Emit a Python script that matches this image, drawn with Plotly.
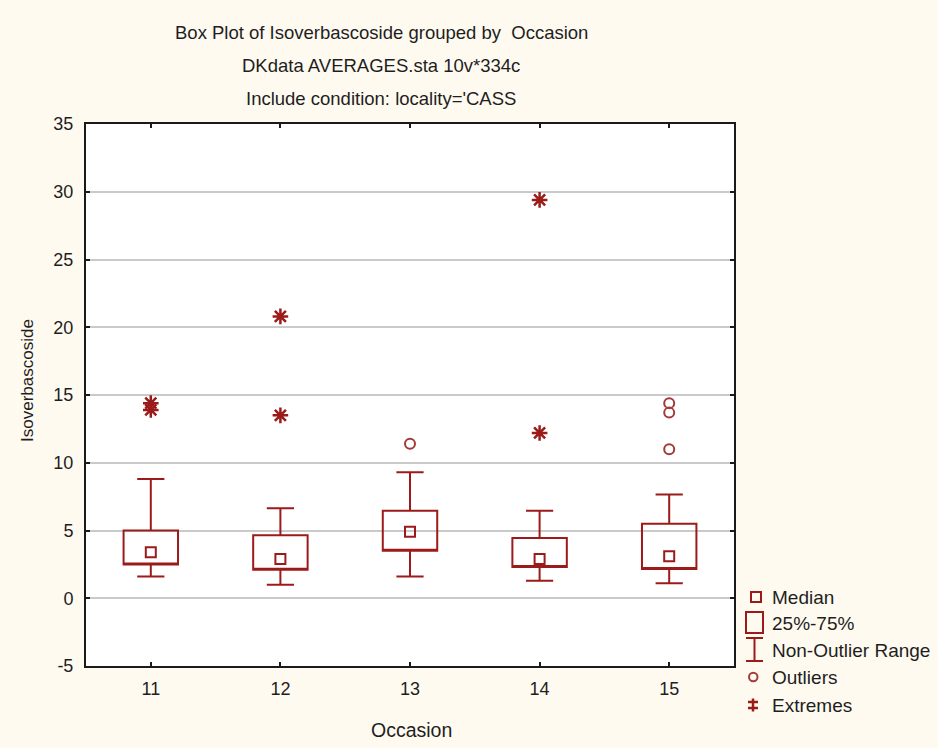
import plotly.graph_objects as go

# ---- data ----
occasion = [11, 12, 13, 14, 15]
q1 = [2.5, 2.1, 3.5, 2.3, 2.15]
median = [3.4, 2.9, 4.9, 2.9, 3.1]
q3 = [5.0, 4.65, 6.45, 4.45, 5.5]
whisker_low = [1.6, 1.0, 1.6, 1.3, 1.1]
whisker_high = [8.8, 6.65, 9.3, 6.45, 7.65]

outlier_x = [13, 15, 15, 15]
outlier_y = [11.4, 14.4, 13.7, 11.0]

extreme_x = [11, 11, 12, 12, 14, 14]
extreme_y = [14.4, 13.9, 20.8, 13.5, 29.4, 12.2]

y_ticks = [-5, 0, 5, 10, 15, 20, 25, 30, 35]

title_lines = [
    "Box Plot of Isoverbascoside grouped by  Occasion",
    "DKdata AVERAGES.sta 10v*334c",
    "Include condition: locality='CASS",
]
legend_labels = ["Median", "25%-75%", "Non-Outlier Range", "Outliers", "Extremes"]

# ---- style ----
RED = "#9B1B1B"
RED2 = "#A23A3A"
TXT = "#1e1e1e"
FONT = "Liberation Sans, Arial, sans-serif"
W, H = 938, 748
L, R, T, B = 86, 204, 124, 82
PW, PH = W - L - R, H - T - B


def px(x):
    return (x - L) / PW


def py(y):
    return (H - B - y) / PH


fig = go.Figure()

# boxes (median line hidden on the lower edge; median shown as square marker)
fig.add_trace(go.Box(
    x=occasion, q1=q1, median=q1, q3=q3,
    lowerfence=whisker_low, upperfence=whisker_high,
    width=0.42, whiskerwidth=0.5,
    fillcolor="rgba(255,255,255,0)",
    line=dict(color=RED, width=2),
    boxpoints=False, showlegend=False, hoverinfo="skip",
))

fig.add_trace(go.Scatter(
    x=occasion, y=median, mode="markers", showlegend=False,
    marker=dict(symbol="square-open", size=10, color=RED, line=dict(width=2, color=RED)),
))

fig.add_trace(go.Scatter(
    x=outlier_x, y=outlier_y, mode="markers", showlegend=False,
    marker=dict(symbol="circle-open", size=10, color=RED2, line=dict(width=2, color=RED2)),
))

fig.add_trace(go.Scatter(
    x=extreme_x, y=extreme_y, mode="markers", showlegend=False,
    marker=dict(symbol="asterisk-open", size=13, color=RED, line=dict(width=2.5, color=RED)),
))

# ---- titles ----
ann = []
for txt, yc in zip(title_lines, [33, 66, 98]):
    ann.append(dict(text=txt, x=px(381), y=py(yc), xref="paper", yref="paper",
                    showarrow=False, xanchor="center", yanchor="middle",
                    font=dict(size=18.5, color=TXT, family=FONT)))
ann.append(dict(text="Isoverbascoside", x=px(27), y=py(381), xref="paper", yref="paper",
                showarrow=False, textangle=-90, xanchor="center", yanchor="middle",
                font=dict(size=17, color=TXT, family=FONT)))
ann.append(dict(text="Occasion", x=px(411), y=py(730), xref="paper", yref="paper",
                showarrow=False, xanchor="center", yanchor="middle",
                font=dict(size=19.5, color=TXT, family=FONT)))

# ---- custom legend ----
leg_y = [597, 623, 650, 677, 705]
for lab, yc in zip(legend_labels, leg_y):
    ann.append(dict(text=lab, x=px(770), y=py(yc), xref="paper", yref="paper",
                    showarrow=False, xanchor="left", yanchor="middle",
                    font=dict(size=19, color=TXT, family=FONT)))

shapes = []
ln = dict(color=RED, width=2)
# median square
shapes.append(dict(type="rect", xref="paper", yref="paper", x0=px(751), x1=px(761),
                   y0=py(602), y1=py(592), line=ln))
# box
shapes.append(dict(type="rect", xref="paper", yref="paper", x0=px(746), x1=px(763),
                   y0=py(633), y1=py(612), line=ln))
# non-outlier range (I beam)
for a, b, c, d in [(746, 638, 763, 638), (746, 661, 763, 661), (754.5, 638, 754.5, 661)]:
    shapes.append(dict(type="line", xref="paper", yref="paper", x0=px(a), y0=py(b),
                       x1=px(c), y1=py(d), line=ln))
# outlier circle
shapes.append(dict(type="circle", xref="paper", yref="paper", x0=px(749), x1=px(757.5),
                   y0=py(681.3), y1=py(672.7), line=dict(color=RED2, width=2)))
# extreme symbol
for a, b, c, d in [(753, 698.5, 753, 711.5), (748, 702, 758, 702), (748, 708, 758, 708)]:
    shapes.append(dict(type="line", xref="paper", yref="paper", x0=px(a), y0=py(b),
                       x1=px(c), y1=py(d), line=dict(color=RED, width=2.5)))

axis_common = dict(
    showline=True, linecolor="#1a1a1a", linewidth=2, mirror="ticks",
    ticks="inside", ticklen=4, tickwidth=1.5, tickcolor="#1a1a1a",
    tickfont=dict(size=18, color=TXT, family=FONT),
    zeroline=False,
)

fig.update_layout(
    width=W, height=H,
    margin=dict(l=L, r=R, t=T, b=B, pad=0),
    paper_bgcolor="#FEFAF0",
    plot_bgcolor="#FFFFFF",
    showlegend=False,
    annotations=ann,
    shapes=shapes,
    xaxis=dict(range=[10.5, 15.5], tickmode="array", tickvals=occasion,
               ticktext=[str(o) for o in occasion], showgrid=False,
               ticklabelstandoff=5, **axis_common),
    yaxis=dict(range=[-5, 35], tickmode="array", tickvals=y_ticks,
               ticktext=[str(v) for v in y_ticks], showgrid=True,
               gridcolor="#CACACA", gridwidth=2, ticklabelstandoff=7, **axis_common),
)

fig.write_html("out.html", config={"displayModeBar": False},
               post_script="document.body.style.margin='0';document.body.style.overflow='hidden';")
